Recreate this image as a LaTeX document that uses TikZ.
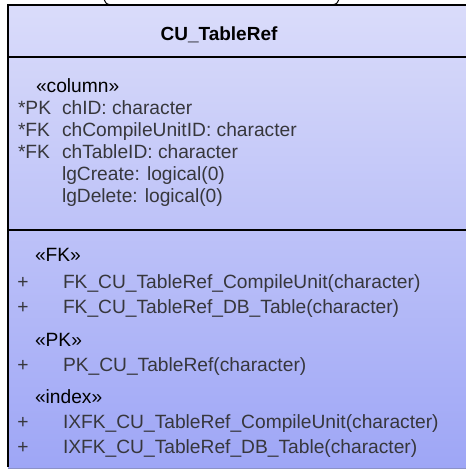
\documentclass[tikz,border=0pt]{standalone}
\usepackage{fontspec}
\setmainfont{Liberation Sans}
\definecolor{boxtop}{RGB}{218,220,250}
\definecolor{boxbot}{RGB}{158,166,246}
\definecolor{itemgray}{RGB}{55,55,60}
\definecolor{boxedge}{RGB}{140,146,200}
\begin{document}
\begin{tikzpicture}[x=1bp,y=-1bp,
  every node/.style={inner sep=0pt, outer sep=0pt, font=\fontsize{19.2bp}{22bp}\selectfont},
  titletext/.style={font=\fontsize{19bp}{22bp}\selectfont\bfseries, text=black},
  stereo/.style={anchor=base west, text=black},
  item/.style={anchor=base west, text=itemgray},
  vis/.style={anchor=base, text=itemgray},
  sepline/.style={draw=black, line width=1.5bp},
  border/.style={draw=black, line width=1.6bp}]
\useasboundingbox (0,0) rectangle (466,469);
\begin{scope}
\clip (0,0) rectangle (466,469);
% class box
\shade[top color=boxtop, bottom color=boxbot] (8,5) rectangle (480,468);
\draw[draw=boxedge, line width=1bp] (8,468) -- (480,468);
\draw[border] (8,467) -- (8,5) -- (480,5);
\draw[sepline] (8,57) -- (480,57);
\draw[sepline] (8,230) -- (480,230);
% part of the shape above
\draw[line width=1bp] (104,-1) .. controls (106,4) .. (112,5);
\draw[line width=1bp] (339,-1) .. controls (337,4) .. (331,5);
\end{scope}
% title
\node[titletext] (title) at (219,35) {CU\_TableRef};
% columns
\node[stereo] (colst) at (36,93) {«column»};
\node[item] (k1) at (18,115) {*PK};
\node[item] (c1) at (62,115) {chID: character};
\node[item] (k2) at (18,137) {*FK};
\node[item] (c2) at (62,137) {chCompileUnitID: character};
\node[item] (k3) at (18,159) {*FK};
\node[item] (c3) at (62,159) {chTableID: character};
\node[item] (c4) at (62,181) {lgCreate: logical(0)};
\node[item] (c5) at (62,203) {lgDelete: logical(0)};
% FK
\node[stereo] (fkst) at (35,261.5) {«FK»};
\node[vis] (p1) at (23,288.5) {+};
\node[item] (f1) at (63,288.5) {FK\_CU\_TableRef\_CompileUnit(character)};
\node[vis] (p2) at (23,313.5) {+};
\node[item] (f2) at (63,313.5) {FK\_CU\_TableRef\_DB\_Table(character)};
% PK
\node[stereo] (pkst) at (35,346.5) {«PK»};
\node[vis] (p3) at (23,371.5) {+};
\node[item] (pk) at (63,371.5) {PK\_CU\_TableRef(character)};
% index
\node[stereo] (ixst) at (35,403.5) {«index»};
\node[vis] (p4) at (23,428.5) {+};
\node[item] (i1) at (63,428.5) {IXFK\_CU\_TableRef\_CompileUnit(character)};
\node[vis] (p5) at (23,453.5) {+};
\node[item] (i2) at (63,453.5) {IXFK\_CU\_TableRef\_DB\_Table(character)};
\end{tikzpicture}
\end{document}
